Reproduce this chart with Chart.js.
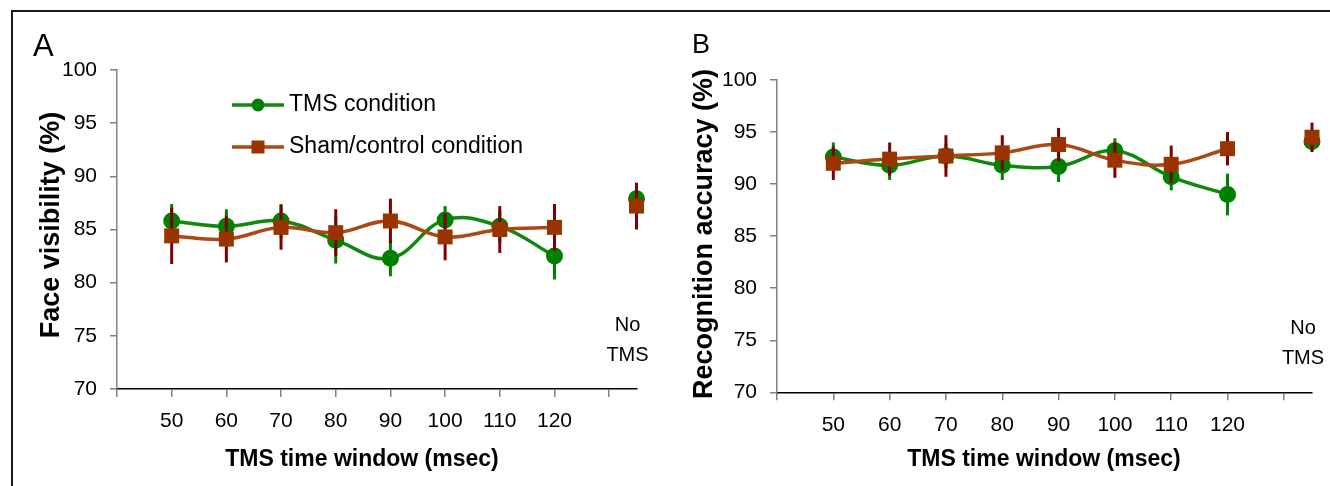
<!DOCTYPE html>
<html>
<head>
<meta charset="utf-8">
<script src="https://cdn.jsdelivr.net/npm/chart.js@4/dist/chart.umd.min.js"></script>
<style>
  html, body { margin: 0; padding: 0; background: #fff; overflow: hidden; }
  body { width: 1330px; height: 486px; position: relative; }
  #frame { position: absolute; left: 11px; top: 10px; width: 1340px; height: 500px;
           border-top: 2px solid #1a1a1a; border-left: 2px solid #1a1a1a; }
  canvas { position: absolute; top: 0; }
  #cA { left: 0; }
  #cB { left: 665px; }
</style>
</head>
<body>
<div id="frame"></div>
<canvas id="cA" width="665" height="486"></canvas>
<canvas id="cB" width="665" height="486"></canvas>
<script>
// ---------- data ----------
const xWindows = [50, 60, 70, 80, 90, 100, 110, 120];
const xTickLabels = ['50', '60', '70', '80', '90', '100', '110', '120'];
const gapSlot = 130;
const noTmsSlot = 135;
const noTmsLabel = ['No', 'TMS'];
const seriesNames = ['TMS condition', 'Sham/control condition'];

// Panel A: Face visibility (%)
const tmsVisibility      = [85.8, 85.3, 85.8, 84.0, 82.3, 85.9, 85.3, 82.5];
const tmsVisibilityErr   = [1.6, 1.6, 1.6, 2.2, 1.7, 1.3, 1.5, 2.2];
const tmsVisibilityNoTms = 87.9, tmsVisibilityNoTmsErr = 1.3;
const shamVisibility      = [84.4, 84.1, 85.2, 84.7, 85.8, 84.3, 85.0, 85.2];
const shamVisibilityErr   = [2.65, 2.2, 2.1, 2.2, 2.1, 2.2, 2.2, 2.2];
const shamVisibilityNoTms = 87.2, shamVisibilityNoTmsErr = 2.2;

// Panel B: Recognition accuracy (%)
const tmsAccuracy      = [92.6, 91.8, 92.7, 91.8, 91.7, 93.2, 90.7, 89.0];
const tmsAccuracyErr   = [1.4, 1.4, 1.2, 1.4, 1.5, 1.2, 1.3, 2.0];
const tmsAccuracyNoTms = 94.1, tmsAccuracyNoTmsErr = 1.0;
const shamAccuracy      = [92.0, 92.4, 92.7, 93.0, 93.8, 92.3, 91.9, 93.4];
const shamAccuracyErr   = [1.6, 1.6, 2.0, 1.7, 1.6, 1.7, 1.8, 1.6];
const shamAccuracyNoTms = 94.5, shamAccuracyNoTmsErr = 1.4;

const yMin = 70, yMax = 100, yStep = 5;
const xMin = 40, xMax = 135, xStep = 10;

// ---------- styling ----------
const FONT = "'Liberation Sans', Arial, sans-serif";
const GREEN_LINE = '#12870f', GREEN = '#008000';
const BROWN_LINE = '#ab4813', BROWN = '#993300', MAROON = '#800000';

function buildPoints(values, noTmsValue) {
  const pts = xWindows.map((x, i) => ({ x: x, y: values[i] }));
  pts.push({ x: gapSlot, y: null });
  pts.push({ x: noTmsSlot, y: noTmsValue });
  return pts;
}
function buildErr(errs, noTmsErr) {
  return errs.concat([null, noTmsErr]);
}

const errorBarPlugin = {
  id: 'errorBars',
  beforeDatasetDraw(chart, args) {
    const ds = chart.data.datasets[args.index];
    if (!ds.errors) return;
    const xs = chart.scales.x, ys = chart.scales.y, ctx = chart.ctx;
    ctx.save();
    ctx.strokeStyle = ds.errorColor;
    ctx.lineWidth = 3;
    ds.data.forEach((p, i) => {
      if (p.y === null || ds.errors[i] == null) return;
      const px = xs.getPixelForValue(p.x);
      ctx.beginPath();
      ctx.moveTo(px, ys.getPixelForValue(p.y + ds.errors[i]));
      ctx.lineTo(px, ys.getPixelForValue(p.y - ds.errors[i]));
      ctx.stroke();
    });
    ctx.restore();
  }
};

function textPlugin(cfg) {
  return {
    id: 'texts',
    afterDraw(chart) {
      const ctx = chart.ctx;
      ctx.save();
      ctx.fillStyle = '#000';
      // panel letter
      ctx.font = cfg.letterSize + 'px ' + FONT;
      ctx.textAlign = 'left'; ctx.textBaseline = 'alphabetic';
      ctx.fillText(cfg.letter, cfg.letterX, cfg.letterY);
      // y title
      ctx.save();
      ctx.translate(cfg.yTitleX, cfg.yTitleY);
      ctx.rotate(-Math.PI / 2);
      ctx.font = 'bold 27px ' + FONT;
      ctx.textAlign = 'center';
      ctx.fillText(cfg.yTitle, 0, 0);
      ctx.restore();
      // x title
      ctx.font = 'bold 23px ' + FONT;
      ctx.textAlign = 'center';
      ctx.fillText('TMS time window (msec)', cfg.xTitleX, 466);
      // No TMS
      ctx.font = '20px ' + FONT;
      const nx = chart.scales.x.getPixelForValue(noTmsSlot) - 9;
      const base = chart.chartArea.bottom;
      ctx.fillText(noTmsLabel[0], nx, base - 58);
      ctx.fillText(noTmsLabel[1], nx, base - 28);
      // legend
      if (cfg.legend) {
        const dsets = chart.data.datasets;
        const rows = [{ ds: dsets[0], y: 105 }, { ds: dsets[1], y: 147 }];
        rows.forEach(r => {
          ctx.strokeStyle = r.ds.borderColor;
          ctx.lineWidth = 3.5;
          ctx.beginPath(); ctx.moveTo(232, r.y); ctx.lineTo(284, r.y); ctx.stroke();
          ctx.fillStyle = r.ds.pointBackgroundColor;
          if (r.ds.pointStyle === 'circle') {
            ctx.beginPath(); ctx.arc(258, r.y, 6.5, 0, Math.PI * 2); ctx.fill();
          } else {
            ctx.fillRect(251.5, r.y - 6.5, 13, 13);
          }
          ctx.fillStyle = '#000';
          ctx.font = '23px ' + FONT;
          ctx.textAlign = 'left';
          ctx.fillText(r.ds.label, 289, r.y + 6);
        });
      }
      ctx.restore();
    }
  };
}

function makeChart(canvasId, tms, tmsErr, tmsNo, tmsNoErr, sham, shamErr, shamNo, shamNoErr, geo, texts) {
  return new Chart(document.getElementById(canvasId), {
    type: 'line',
    data: {
      datasets: [
        {
          label: seriesNames[0],
          data: buildPoints(tms, tmsNo),
          errors: buildErr(tmsErr, tmsNoErr),
          errorColor: GREEN,
          borderColor: GREEN_LINE, borderWidth: 3.5, tension: 0.4,
          pointStyle: 'circle', pointRadius: 8.5, pointHoverRadius: 8.5,
          pointBackgroundColor: GREEN, pointBorderWidth: 0,
          clip: false, order: 1, spanGaps: false
        },
        {
          label: seriesNames[1],
          data: buildPoints(sham, shamNo),
          errors: buildErr(shamErr, shamNoErr),
          errorColor: MAROON,
          borderColor: BROWN_LINE, borderWidth: 3.5, tension: 0.4,
          pointStyle: 'rect', pointRadius: 10.6, pointHoverRadius: 10.6,
          pointBackgroundColor: BROWN, pointBorderWidth: 0,
          clip: false, order: 0, spanGaps: false
        }
      ]
    },
    options: {
      responsive: false, animation: false, devicePixelRatio: 1,
      layout: { padding: { left: 0, top: geo.top, right: geo.right, bottom: 0 } },
      plugins: { legend: { display: false }, tooltip: { enabled: false } },
      scales: {
        x: {
          type: 'linear', min: xMin, max: xMax,
          afterFit: s => { s.height = geo.xHeight; },
          ticks: {
            stepSize: xStep, includeBounds: false, autoSkip: false, maxRotation: 0,
            color: '#000', font: { family: FONT, size: 21 }, padding: 12,
            callback: v => { const i = xWindows.indexOf(v); return i >= 0 ? xTickLabels[i] : ''; }
          },
          grid: { drawOnChartArea: false, drawTicks: true, tickLength: 8, color: '#808080', lineWidth: 1.5 },
          border: { display: true, color: '#000', width: 1.5 }
        },
        y: {
          min: yMin, max: yMax,
          afterFit: s => { s.width = geo.yWidth; },
          ticks: { stepSize: yStep, color: '#000', font: { family: FONT, size: 21 }, padding: 13 },
          grid: { drawOnChartArea: false, drawTicks: true, tickLength: 7, color: '#808080', lineWidth: 1.5 },
          border: { display: true, color: '#808080', width: 1.5 }
        }
      }
    },
    plugins: [errorBarPlugin, textPlugin(texts)]
  });
}

makeChart('cA', tmsVisibility, tmsVisibilityErr, tmsVisibilityNoTms, tmsVisibilityNoTmsErr,
  shamVisibility, shamVisibilityErr, shamVisibilityNoTms, shamVisibilityNoTmsErr,
  { top: 70, right: 28.5, xHeight: 97, yWidth: 117 },
  { letter: 'A', letterSize: 31, letterX: 33, letterY: 56,
    yTitle: 'Face visibility (%)', yTitleX: 59, yTitleY: 225, xTitleX: 362, legend: true });

makeChart('cB', tmsAccuracy, tmsAccuracyErr, tmsAccuracyNoTms, tmsAccuracyNoTmsErr,
  shamAccuracy, shamAccuracyErr, shamAccuracyNoTms, shamAccuracyNoTmsErr,
  { top: 80, right: 18, xHeight: 93.7, yWidth: 112 },
  { letter: 'B', letterSize: 27, letterX: 27, letterY: 53,
    yTitle: 'Recognition accuracy (%)', yTitleX: 47, yTitleY: 234, xTitleX: 379, legend: false });
</script>
</body>
</html>
